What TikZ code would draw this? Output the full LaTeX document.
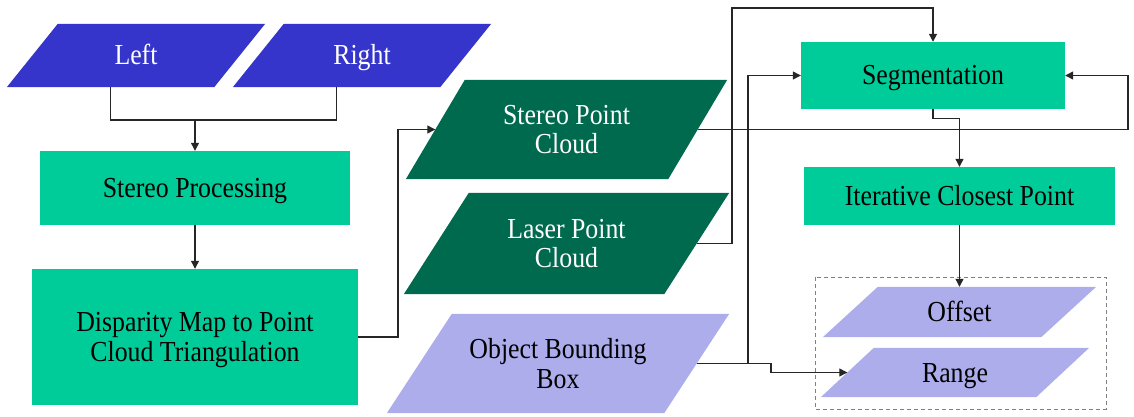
\documentclass[tikz,border=0pt]{standalone}
\usepackage{fontspec}
\setmainfont{Liberation Serif}[FakeStretch=0.89]
\usetikzlibrary{arrows.meta,backgrounds}

\definecolor{inblue}{HTML}{3535CC}
\definecolor{procteal}{HTML}{00CC99}
\definecolor{cloudgreen}{HTML}{006A4E}
\definecolor{outlav}{HTML}{ADADEB}
\definecolor{wirecol}{HTML}{262626}

% fill a parallelogram over the bounding rectangle of node #1, slant #2, colour #3
\newcommand\slantfill[3]{%
  \fill[#3] ([xshift=#2]#1.north west) -- (#1.north east)
            -- ([xshift=-#2]#1.south east) -- (#1.south west) -- cycle;}

\begin{document}
\begin{tikzpicture}[x=1pt,y=-1pt,
  box/.style={inner sep=0pt, align=center,
              font=\fontsize{29}{29.5}\selectfont, text depth=0pt},
  oneline/.style={text height=19pt},
  proc/.style={box, fill=procteal},
  link/.style={draw=wirecol, line width=1.2pt},
  arr/.style={link, -{Triangle[length=8pt,width=8pt]}}]

\useasboundingbox (0,0) rectangle (1134,417);

% inputs
\node[box, oneline, text=white, minimum width=258, minimum height=63] (L) at (136,55.5) {Left};
\node[box, oneline, text=white, minimum width=258, minimum height=63] (R) at (362,55.5) {Right};

% stereo pipeline
\node[proc, oneline, minimum width=310, minimum height=74] (SP) at (195,188) {Stereo Processing};
\node[proc, minimum width=326, minimum height=136] (DM) at (195,337) {Disparity Map to Point\\Cloud Triangulation};

% point clouds and boxes
\node[box, text=white, minimum width=321, minimum height=99] (SPC) at (566.5,129.5) {Stereo Point\\Cloud};
\node[box, text=white, minimum width=325, minimum height=101] (LPC) at (566.5,243.5) {Laser Point\\Cloud};
\node[box, minimum width=342, minimum height=99] (OBB) at (558,363.5) {Object Bounding\\Box};

% registration
\node[proc, oneline, minimum width=264, minimum height=67] (Seg) at (933,75.5) {Segmentation};
\node[proc, oneline, minimum width=311, minimum height=58] (ICP) at (959.5,196) {Iterative Closest Point};

% outputs
\node[box, oneline, minimum width=273, minimum height=50] (OFF) at (959.5,312) {Offset};
\node[box, oneline, minimum width=268, minimum height=49] (RNG) at (955,372.5) {Range};
\draw[gray, line width=1pt, dash pattern=on 4pt off 3pt] (815,277) rectangle (1106,409);

\begin{pgfonlayer}{background}
  \slantfill{L}{51}{inblue}
  \slantfill{R}{51}{inblue}
  \slantfill{SPC}{59}{cloudgreen}
  \slantfill{LPC}{65}{cloudgreen}
  \slantfill{OBB}{65}{outlav}
  \slantfill{OFF}{55}{outlav}
  \slantfill{RNG}{53}{outlav}
\end{pgfonlayer}

% connectors
\coordinate (LRjoin) at (195,120);
\draw[link] ([xshift=-25.5]L.south) |- (LRjoin) -| ([xshift=-25.5]R.south);
\draw[arr] (LRjoin) -- (SP.north);
\draw[arr] (SP.south) -- (DM.north);

\coordinate (DMup) at (398,337);
\draw[arr] (DM.east) -- (DMup) |- ([xshift=29.5]SPC.west);

\coordinate (SPCback) at (1128,75.5);
\draw[arr] ([xshift=-29.5]SPC.east) -| (SPCback) -- (Seg.east);

\coordinate (LPCup) at (732,8);
\draw[arr] ([xshift=-32.5]LPC.east) -| (LPCup) -| (Seg.north);

\coordinate (OBBsplit) at (748,363.5);
\coordinate (OBBstep) at (771,363.5);
\draw[link] ([xshift=-32.5]OBB.east) -- (OBBsplit);
\draw[arr] (OBBsplit) |- (Seg.west);
\draw[arr] (OBBsplit) -- (OBBstep) |- ([xshift=26.5]RNG.west);

\draw[arr] (Seg.south) -- ++(0,9) -| (ICP.north);
\draw[arr] (ICP.south) -- (OFF.north);

\end{tikzpicture}
\end{document}
